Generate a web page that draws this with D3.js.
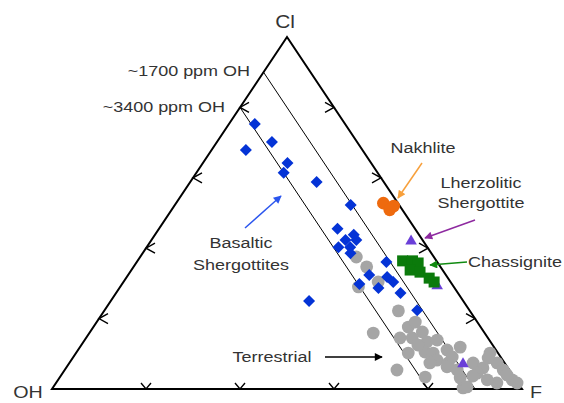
<!DOCTYPE html>
<meta charset="utf-8">
<style>
  body { margin: 0; background: #fff; }
  text { font-family: "Liberation Sans", Arial, Helvetica, sans-serif; fill: #333; }
</style>
<svg width="564" height="403"></svg>
<script src="https://cdn.jsdelivr.net/npm/d3@7"></script>
<script>

// columns: Cl, F, OH (percent)
var basaltic = [[75.3,5.5,19.2],[70.2,11.7,18.1],[67.9,7.3,24.8],[64.2,18.0,17.8],[61.4,18.6,20.0],
  [58.8,26.9,14.3],[52.3,37.4,10.3],[45.5,38.0,16.5],[43.8,42.3,13.9],[42.3,41.3,16.4],[40.3,40.8,18.9],
  [40.3,43.3,16.4],[42.3,43.6,14.1],[38.6,44.2,17.2],[36.1,53.1,10.8],[32.4,51.3,16.3],[29.8,50.5,19.7],
  [31.8,55.4,12.8],[30.4,57.4,12.2],[28.7,55.1,16.2],[27.3,60.5,12.2],[25.0,42.2,32.8],[22.4,66.5,11.1]];

var terrestrial = [[37.5,46.0,16.5],[34.7,49.6,15.7],[30.4,54.2,15.4],[29.0,50.7,20.3],[22.2,62.6,15.2],
  [15.9,60.4,23.7],[17.6,67.0,15.4],[16.2,70.7,13.1],[14.5,66.8,18.7],[14.5,69.4,16.1],[13.4,73.1,13.5],
  [13.9,75.0,11.1],[10.2,70.7,19.1],[10.5,74.1,15.4],[10.2,76.0,13.8],[11.1,78.5,10.4],[11.9,80.9,7.2],
  [8.2,77.8,14.0],[7.4,80.6,12.0],[7.4,76.7,15.9],[5.4,70.7,23.9],[3.4,77.7,18.9],[3.1,85.3,11.6],
  [0.3,87.3,12.4],[7.4,85.9,6.7],[6.0,88.7,5.3],[10.2,88.1,1.7],[7.4,91.0,1.6],[5.4,93.3,1.3],
  [2.6,96.6,0.8],[1.7,98.1,0.2],[1.7,93.8,4.5],[2.6,91.3,6.1],[4.5,88.2,7.3],[5.4,83.5,11.1],
  [6.3,80.9,12.8],[12.5,71.6,15.9],[0.6,88.0,11.4],[4.0,94.8,1.2],[8.8,88.4,2.8],[3.7,87.7,8.6],
  [9.1,80.6,10.3],[19.0,67.8,13.2]];

var lherzolitic = [[42.0,55.4,2.6],[29.3,67.3,3.4],[7.1,83.9,9.0]];

var chassignite = [[36.4,56.4,7.2],[36.4,58.5,5.1],[35.8,60.0,4.2],[33.8,59.3,6.9],[33.2,61.7,5.1],
  [31.5,64.5,4.0],[30.4,66.1,3.5]];

var nakhlite = [[52.8,44.1,3.1],[52.0,46.7,1.3],[50.9,46.4,2.7]];

var ticks = [0.2, 0.4, 0.6, 0.8];
var ohLines = [{oh: 0.1, label: "~1700 ppm OH"}, {oh: 0.2, label: "~3400 ppm OH"}];

var svg = d3.select("svg");

var xs = d3.scaleLinear().domain([0, 1]).range([52, 522]);
var ys = d3.scaleLinear().domain([0, 1]).range([389, 37]);

// cl, f as fractions
function proj(cl, f) { return [xs(f + cl / 2), ys(cl)]; }
function projP(d) { return proj(d[0] / 100, d[1] / 100); }

var sx = 1.16; // the original picture is stretched horizontally

function label(t, x, y, size, anchor) {
  svg.append("text")
      .attr("transform", "translate(" + x + "," + y + ") scale(" + sx + ",1)")
      .attr("dy", "0.35em")
      .attr("font-size", size)
      .attr("text-anchor", anchor || "middle")
      .text(t);
}

// grid lines of constant OH
ohLines.forEach(function(l) {
  var a = proj(1 - l.oh, 0), b = proj(0, 1 - l.oh);
  svg.append("line")
      .attr("x1", a[0]).attr("y1", a[1]).attr("x2", b[0]).attr("y2", b[1])
      .attr("stroke", "#000").attr("stroke-width", 1);
});

// triangle
var tri = [proj(1, 0), proj(0, 0), proj(0, 1)];
svg.append("path")
    .attr("d", "M" + tri.join("L") + "Z")
    .attr("fill", "none").attr("stroke", "#000").attr("stroke-width", 2)
    .attr("stroke-linejoin", "miter");

// chevron ticks
var tg = svg.append("g").attr("fill", "none").attr("stroke", "#000").attr("stroke-width", 1.4);
ticks.forEach(function(k) {
  var b = proj(0, k), l = proj(k, 0), r = proj(k, 1 - k);
  tg.append("path").attr("d", "M" + (b[0] - 5) + "," + (b[1] - 6) + "L" + b[0] + "," + b[1] + "L" + (b[0] + 5) + "," + (b[1] - 6));
  tg.append("path").attr("d", "M" + (l[0] + 9) + "," + (l[1] - 5) + "L" + l[0] + "," + l[1] + "L" + (l[0] + 9) + "," + (l[1] + 5));
  tg.append("path").attr("d", "M" + (r[0] - 9) + "," + (r[1] - 5) + "L" + r[0] + "," + r[1] + "L" + (r[0] - 9) + "," + (r[1] + 5));
});

// points
svg.append("g").selectAll("circle").data(terrestrial).enter().append("circle")
    .attr("cx", function(d) { return projP(d)[0]; })
    .attr("cy", function(d) { return projP(d)[1]; })
    .attr("r", 6.4).attr("fill", "#a5a5a5");

svg.append("g").selectAll("path").data(basaltic).enter().append("path")
    .attr("d", d3.symbol(d3.symbolSquare, 72))
    .attr("transform", function(d) { var p = projP(d); return "translate(" + p + ") rotate(45)"; })
    .attr("fill", "#0433d6");

svg.append("g").selectAll("path").data(lherzolitic).enter().append("path")
    .attr("d", d3.symbol(d3.symbolTriangle, 58))
    .attr("transform", function(d) { return "translate(" + projP(d) + ")"; })
    .attr("fill", "#6a3fd8");

svg.append("g").selectAll("rect").data(chassignite).enter().append("rect")
    .attr("x", function(d) { return projP(d)[0] - 5.5; })
    .attr("y", function(d) { return projP(d)[1] - 5.5; })
    .attr("width", 11).attr("height", 11)
    .attr("fill", "#0b7a0b");

svg.append("g").selectAll("circle").data(nakhlite).enter().append("circle")
    .attr("cx", function(d) { return projP(d)[0]; })
    .attr("cy", function(d) { return projP(d)[1]; })
    .attr("r", 6.3).attr("fill", "#ee6a0e");

// arrows
var defs = svg.append("defs");
function arrow(x1, y1, x2, y2, color, id) {
  defs.append("marker")
      .attr("id", id).attr("viewBox", "0 0 10 10").attr("refX", 9).attr("refY", 5)
      .attr("markerUnits", "userSpaceOnUse").attr("markerWidth", 10).attr("markerHeight", 8)
      .attr("orient", "auto")
    .append("path").attr("d", "M0,0L10,5L0,10Z").attr("fill", color);
  svg.append("line")
      .attr("x1", x1).attr("y1", y1).attr("x2", x2).attr("y2", y2)
      .attr("stroke", color).attr("stroke-width", 1.5)
      .attr("marker-end", "url(#" + id + ")");
}
arrow(422, 163, 398, 198, "#f7a03c", "a1");
arrow(475, 220, 425, 238, "#8e2aa0", "a2");
arrow(467, 262, 430, 265, "#108a10", "a3");
arrow(245, 228, 281, 196, "#2a55ee", "a4");
arrow(325, 357, 382, 357, "#000", "a5");

// labels
label("Cl", 285, 22, 18);
label("OH", 28, 392, 17);
label("F", 536, 392, 17);
ohLines.forEach(function(l, i) {
  label(l.label, i === 0 ? 250 : 225, i === 0 ? 71 : 107, 15.5, "end");
});
label("Nakhlite", 423, 148, 15.5);
label("Lherzolitic", 481, 183, 15.5);
label("Shergottite", 481, 203, 15.5);
label("Chassignite", 515, 262, 15.5);
label("Basaltic", 241, 243, 15.5);
label("Shergottites", 241, 265, 15.5);
label("Terrestrial", 272, 357, 15.5);

</script>
